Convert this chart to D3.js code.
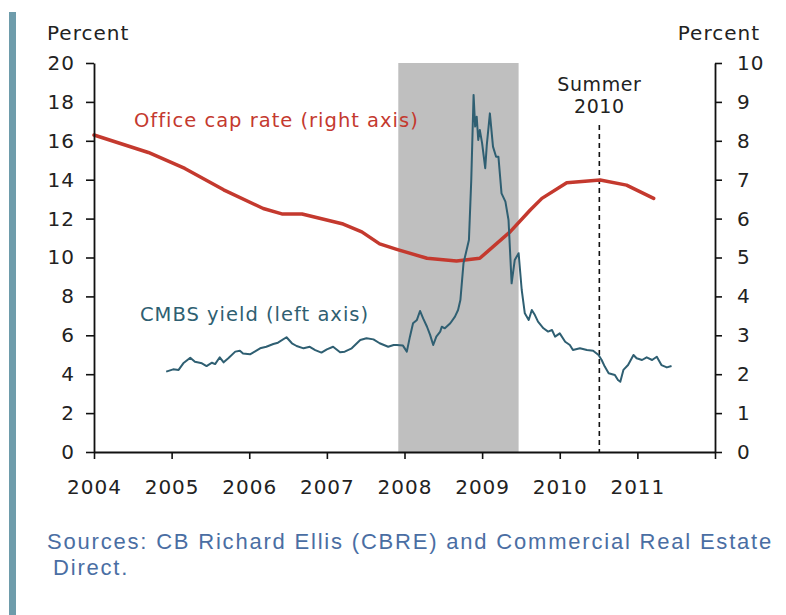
<!DOCTYPE html>
<html>
<head>
<meta charset="utf-8">
<script src="https://cdn.jsdelivr.net/npm/d3@7"></script>
<style>
  html, body { margin: 0; padding: 0; background: #ffffff; }
  svg { display: block; }
  text { font-family: "DejaVu Sans", Verdana, sans-serif; }
  text.src { font-family: "Liberation Sans", Arial, sans-serif; }
</style>
</head>
<body>
<svg id="chart" width="786" height="615"></svg>
<script>
// ---------- DATA ----------
const xTickYears = [2004, 2005, 2006, 2007, 2008, 2009, 2010, 2011, 2012];
const xTickLabels = ["2004", "2005", "2006", "2007", "2008", "2009", "2010", "2011", ""];
const leftTicks = [0, 2, 4, 6, 8, 10, 12, 14, 16, 18, 20];
const rightTicks = [0, 1, 2, 3, 4, 5, 6, 7, 8, 9, 10];

const recession = [2007.92, 2009.47];
const summer2010 = 2010.51;

// Office cap rate (right axis), percent
const capDates = [2004.0, 2004.70, 2005.17, 2005.67, 2006.18, 2006.42, 2006.68, 2007.21, 2007.45,
  2007.68, 2007.90, 2008.29, 2008.67, 2008.97, 2009.36, 2009.62, 2009.77, 2010.09, 2010.52,
  2010.86, 2011.21];
const capValues = [8.15, 7.70, 7.29, 6.74, 6.26, 6.12, 6.12, 5.86, 5.66,
  5.35, 5.21, 4.98, 4.91, 4.98, 5.66, 6.22, 6.52, 6.92, 6.99,
  6.86, 6.52];

// CMBS yield (left axis), percent
const cmbsDates = [2004.93, 2005.02, 2005.09, 2005.15, 2005.24, 2005.30, 2005.39, 2005.45, 2005.52,
  2005.56, 2005.62, 2005.67, 2005.73, 2005.82, 2005.88, 2005.92, 2006.01, 2006.07, 2006.14,
  2006.22, 2006.31, 2006.37, 2006.48, 2006.55, 2006.61, 2006.70, 2006.78, 2006.85, 2006.93,
  2007.00, 2007.08, 2007.17, 2007.23, 2007.32, 2007.43, 2007.51, 2007.60, 2007.68, 2007.79,
  2007.86, 2007.90, 2007.98, 2008.03, 2008.07, 2008.11, 2008.16, 2008.20, 2008.24, 2008.29,
  2008.33, 2008.37, 2008.41, 2008.46, 2008.48, 2008.52, 2008.59, 2008.65, 2008.69, 2008.72,
  2008.76, 2008.80, 2008.83, 2008.86, 2008.89, 2008.91, 2008.93, 2008.95, 2008.97, 2009.00,
  2009.04, 2009.06, 2009.10, 2009.14, 2009.18, 2009.21, 2009.25, 2009.30, 2009.34, 2009.38,
  2009.42, 2009.47, 2009.51, 2009.55, 2009.60, 2009.64, 2009.68, 2009.72, 2009.79, 2009.85,
  2009.90, 2009.94, 2010.00, 2010.07, 2010.13, 2010.17, 2010.26, 2010.35, 2010.43, 2010.50,
  2010.54, 2010.58, 2010.63, 2010.71, 2010.75, 2010.78, 2010.82, 2010.88, 2010.95, 2010.99,
  2011.06, 2011.12, 2011.19, 2011.25, 2011.31, 2011.38, 2011.44];
const cmbsValues = [4.13, 4.25, 4.22, 4.56, 4.85, 4.64, 4.56, 4.42, 4.59,
  4.52, 4.87, 4.61, 4.82, 5.16, 5.21, 5.07, 5.02, 5.16, 5.33,
  5.41, 5.55, 5.62, 5.90, 5.59, 5.45, 5.33, 5.41, 5.24, 5.11,
  5.28, 5.41, 5.13, 5.16, 5.33, 5.76, 5.85, 5.79, 5.59, 5.41,
  5.50, 5.50, 5.47, 5.16, 5.93, 6.62, 6.79, 7.25, 6.87, 6.44,
  6.02, 5.50, 5.93, 6.19, 6.44, 6.36, 6.62, 6.96, 7.30, 7.81,
  9.70, 10.39, 10.90, 13.98, 18.36, 16.73, 17.24, 16.04, 16.56, 15.87,
  14.59, 15.78, 17.41, 15.70, 15.18, 15.18, 13.30, 12.87, 11.93, 8.67,
  9.87, 10.22, 8.33, 7.13, 6.79, 7.30, 7.04, 6.70, 6.36, 6.19,
  6.27, 5.93, 6.10, 5.67, 5.50, 5.24, 5.33, 5.24, 5.21, 4.99,
  4.73, 4.39, 4.05, 3.96, 3.70, 3.61, 4.22, 4.47, 4.99, 4.82,
  4.73, 4.87, 4.73, 4.90, 4.47, 4.35, 4.42];

// ---------- DRAW ----------
const svg = d3.select("#chart");

// decorative left bar
svg.append("rect").attr("x", 9).attr("y", 12).attr("width", 7).attr("height", 603)
  .attr("fill", "#6e9cab");

const x = d3.scaleLinear().domain([2004, 2012]).range([94, 715]);
const yL = d3.scaleLinear().domain([0, 20]).range([452, 63]);
const yR = d3.scaleLinear().domain([0, 10]).range([452, 63]);

// recession shading
svg.append("rect")
  .attr("x", x(recession[0])).attr("y", yL(20))
  .attr("width", x(recession[1]) - x(recession[0]))
  .attr("height", yL(0) - yL(20))
  .attr("fill", "#bfbfbf");

// summer 2010 dashed line
svg.append("line")
  .attr("x1", x(summer2010)).attr("x2", x(summer2010))
  .attr("y1", 125).attr("y2", yL(0))
  .attr("stroke", "#111").attr("stroke-width", 1.6)
  .attr("stroke-dasharray", "5,4");

svg.append("text").attr("x", x(summer2010)).attr("y", 91)
  .attr("text-anchor", "middle").attr("font-size", 19).attr("letter-spacing", 0.6)
  .attr("fill", "#222").text("Summer");
svg.append("text").attr("x", x(summer2010)).attr("y", 113)
  .attr("text-anchor", "middle").attr("font-size", 19).attr("letter-spacing", 0.6)
  .attr("fill", "#222").text("2010");

// lines
const capData = capDates.map((d, i) => [d, capValues[i]]);
const cmbsData = cmbsDates.map((d, i) => [d, cmbsValues[i]]);

svg.append("path").datum(capData)
  .attr("fill", "none").attr("stroke", "#c4392e").attr("stroke-width", 3.5)
  .attr("stroke-linejoin", "round").attr("stroke-linecap", "round")
  .attr("d", d3.line().x(d => x(d[0])).y(d => yR(d[1])));

svg.append("path").datum(cmbsData)
  .attr("fill", "none").attr("stroke", "#2f5f72").attr("stroke-width", 2)
  .attr("stroke-linejoin", "round")
  .attr("d", d3.line().x(d => x(d[0])).y(d => yL(d[1])));

// axes
function styleAxis(g) {
  g.selectAll("path.domain").attr("stroke", "#111").attr("stroke-width", 1.8);
  g.selectAll(".tick line").attr("stroke", "#111").attr("stroke-width", 1.6);
  g.selectAll(".tick text").attr("font-size", 20).attr("letter-spacing", 1).attr("fill", "#222");
}

svg.append("g").attr("transform", `translate(${x(2004)},0)`)
  .call(d3.axisLeft(yL).tickValues(leftTicks).tickSize(8).tickSizeOuter(0).tickPadding(11)
    .tickFormat(d3.format("d")))
  .call(styleAxis);

svg.append("g").attr("transform", `translate(${x(2012)},0)`)
  .call(d3.axisRight(yR).tickValues(rightTicks).tickSize(7).tickSizeOuter(0).tickPadding(15)
    .tickFormat(d3.format("d")))
  .call(styleAxis);

svg.append("g").attr("transform", `translate(0,${yL(0)})`)
  .call(d3.axisBottom(x).tickValues(xTickYears).tickSize(7).tickSizeOuter(0).tickPadding(21)
    .tickFormat((d, i) => xTickLabels[i]))
  .call(styleAxis);

// axis titles
svg.append("text").attr("x", 47).attr("y", 40).attr("font-size", 20).attr("letter-spacing", 1)
  .attr("fill", "#222").text("Percent");
svg.append("text").attr("x", 760).attr("y", 40).attr("text-anchor", "end")
  .attr("font-size", 20).attr("letter-spacing", 1).attr("fill", "#222").text("Percent");

// series labels
svg.append("text").attr("x", 134).attr("y", 127).attr("font-size", 19.5).attr("letter-spacing", 1)
  .attr("fill", "#c4392e").text("Office cap rate (right axis)");
svg.append("text").attr("x", 140).attr("y", 321).attr("font-size", 19.5).attr("letter-spacing", 1)
  .attr("fill", "#2f5f72").text("CMBS yield (left axis)");

// sources
svg.append("text").attr("class", "src").attr("x", 47).attr("y", 549)
  .attr("font-size", 22).attr("letter-spacing", 1.8).attr("fill", "#4a6ea3")
  .text("Sources: CB Richard Ellis (CBRE) and Commercial Real Estate");
svg.append("text").attr("class", "src").attr("x", 53).attr("y", 575)
  .attr("font-size", 22).attr("letter-spacing", 1.8).attr("fill", "#4a6ea3")
  .text("Direct.");
</script>
</body>
</html>
